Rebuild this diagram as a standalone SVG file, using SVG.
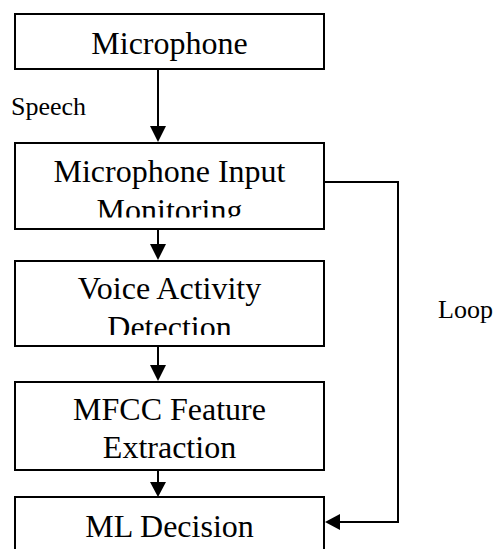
<svg xmlns="http://www.w3.org/2000/svg" width="494" height="549" viewBox="0 0 494 549">
<style>
.box{fill:#fff;stroke:#000;stroke-width:2}
.t{font-family:"Liberation Serif","Times New Roman",serif;font-size:32px;fill:#000;text-anchor:middle}
.lbl{font-family:"Liberation Serif","Times New Roman",serif;font-size:26px;fill:#000}
.c{fill:none;stroke:#000;stroke-width:2}
</style>
<defs>
<clipPath id="c2"><rect x="15" y="143" width="309" height="74.5"/></clipPath>
<clipPath id="c3"><rect x="15" y="261" width="309" height="74"/></clipPath>
</defs>
<rect width="494" height="549" fill="#fff"/>
<g id="connectors">
<line class="c" x1="158" y1="69" x2="158" y2="126"/>
<path d="M150,126 L166,126 L158,142 Z"/>
<line class="c" x1="158" y1="229" x2="158" y2="244"/>
<path d="M150,244 L166,244 L158,260 Z"/>
<line class="c" x1="158" y1="346" x2="158" y2="365"/>
<path d="M150,365 L166,365 L158,381 Z"/>
<line class="c" x1="158" y1="470" x2="158" y2="482"/>
<path d="M150,482 L166,482 L158,497 Z"/>
<polyline class="c" points="324,182 398,182 398,522 340,522"/>
<path d="M340,514 L340,530 L325,522 Z"/>
<text class="lbl" x="11" y="115">Speech</text>
<text class="lbl" x="438" y="318">Loop</text>
</g>
<g id="microphone">
<rect class="box" x="15" y="14" width="309" height="55"/>
<text class="t" x="169.5" y="54">Microphone</text>
</g>
<g id="monitoring">
<rect class="box" x="15" y="143" width="309" height="86"/>
<g clip-path="url(#c2)">
<text class="t" x="169.5" y="182">Microphone Input</text>
<text class="t" x="169.5" y="221">Monitoring</text>
</g>
</g>
<g id="vad">
<rect class="box" x="15" y="261" width="309" height="85"/>
<g clip-path="url(#c3)">
<text class="t" x="169.5" y="299">Voice Activity</text>
<text class="t" x="169.5" y="337.5">Detection</text>
</g>
</g>
<g id="mfcc">
<rect class="box" x="15" y="382" width="309" height="88"/>
<text class="t" x="169.5" y="420">MFCC Feature</text>
<text class="t" x="169.5" y="458">Extraction</text>
</g>
<g id="ml">
<rect class="box" x="15" y="497" width="309" height="70"/>
<text class="t" x="169.5" y="537">ML Decision</text>
</g>
</svg>
